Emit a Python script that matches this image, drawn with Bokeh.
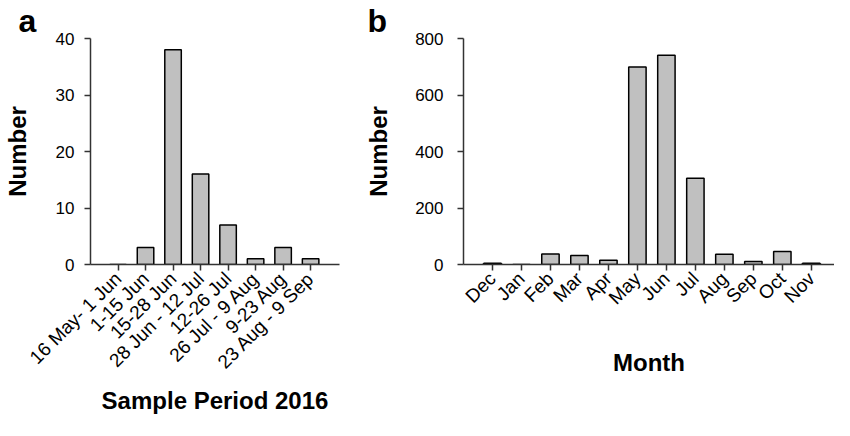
import math
from bokeh.plotting import figure
from bokeh.layouts import row
from bokeh.models import Range1d, FixedTicker
from bokeh.embed import file_html
from bokeh.resources import INLINE

# ---- data ----
periods = ["16 May- 1 Jun", "1-15 Jun", "15-28 Jun", "28 Jun - 12 Jul",
           "12-26 Jul", "26 Jul - 9 Aug", "9-23 Aug", "23 Aug - 9 Sep"]
period_counts = [0, 3, 38, 16, 7, 1, 3, 1]

months = ["Dec", "Jan", "Feb", "Mar", "Apr", "May", "Jun", "Jul",
          "Aug", "Sep", "Oct", "Nov"]
month_counts = [4, 0, 37, 32, 15, 699, 741, 305, 36, 11, 46, 4]

a_yticks = [0, 10, 20, 30, 40]
b_yticks = [0, 200, 400, 600, 800]

FONT = "Liberation Sans"
BAR_FILL = "#c0c0c0"
AXIS_COLOR = "#333333"


def style(p, ticks_x, labels, yticks, xlabel, ylabel, ystandoff, xstandoff,
          ylab_standoff, panel_letter, letter_offset):
    p.xaxis.ticker = FixedTicker(ticks=ticks_x)
    p.xaxis.major_label_overrides = {i: s for i, s in zip(ticks_x, labels)}
    p.yaxis.ticker = FixedTicker(ticks=yticks)
    for ax in (p.xaxis[0], p.yaxis[0]):
        ax.axis_line_color = AXIS_COLOR
        ax.axis_line_width = 1.5
        ax.major_tick_line_color = AXIS_COLOR
        ax.major_tick_line_width = 1.5
        ax.major_tick_out = 6
        ax.major_tick_in = 0
        ax.minor_tick_line_color = None
        ax.major_label_text_font = FONT
        ax.major_label_text_color = "#000000"
        ax.major_label_text_line_height = 0.7
        ax.axis_label_text_font = FONT
        ax.axis_label_text_font_size = "24px"
        ax.axis_label_text_font_style = "bold"
        ax.axis_label_text_color = "#000000"
        ax.axis_label_text_line_height = 0.7
    p.xaxis.major_label_text_font_size = "19px"
    p.yaxis.major_label_text_font_size = "17px"
    p.xaxis.major_label_orientation = math.pi / 4
    p.xaxis.major_label_standoff = 5
    p.yaxis.major_label_standoff = ylab_standoff
    p.xaxis.axis_label = xlabel
    p.yaxis.axis_label = ylabel
    p.yaxis.axis_label_standoff = ystandoff
    p.xaxis.axis_label_standoff = xstandoff
    p.xgrid.visible = False
    p.ygrid.visible = False
    p.outline_line_color = None
    p.background_fill_color = "white"
    p.border_fill_color = "white"
    p.title.text = panel_letter
    p.title.text_font = FONT
    p.title.text_font_size = "32px"
    p.title.text_font_style = "bold"
    p.title.text_color = "#000000"
    p.title.align = "left"
    p.title.offset = letter_offset
    p.title.standoff = 0


# ---- panel a ----
xa = list(range(len(periods)))
pa = figure(width=362, height=420, output_backend="svg", toolbar_location=None,
            x_range=Range1d(-1, 8.05), y_range=Range1d(0, 40),
            min_border_left=81, min_border_right=23,
            min_border_top=32, min_border_bottom=156)
pa.vbar(x=xa, top=period_counts, width=0.6, bottom=0,
        fill_color=BAR_FILL, line_color="black", line_width=1.5)
style(pa, xa, periods, a_yticks, "Sample Period 2016", "Number", 22, 4, 10, "a", -72)

# ---- panel b ----
xb = list(range(len(months)))
pb = figure(width=472, height=420, output_backend="svg", toolbar_location=None,
            x_range=Range1d(-1, 11.8), y_range=Range1d(0, 800),
            min_border_left=98, min_border_right=0,
            min_border_top=32, min_border_bottom=156)
pb.vbar(x=xb, top=month_counts, width=0.6, bottom=0,
        fill_color=BAR_FILL, line_color="black", line_width=1.5)
style(pb, xb, months, b_yticks, "Month", "Number", 20, 30, 14, "b", -96)

layout = row(pa, pb)
open("out.html", "w").write(file_html(layout, INLINE))
